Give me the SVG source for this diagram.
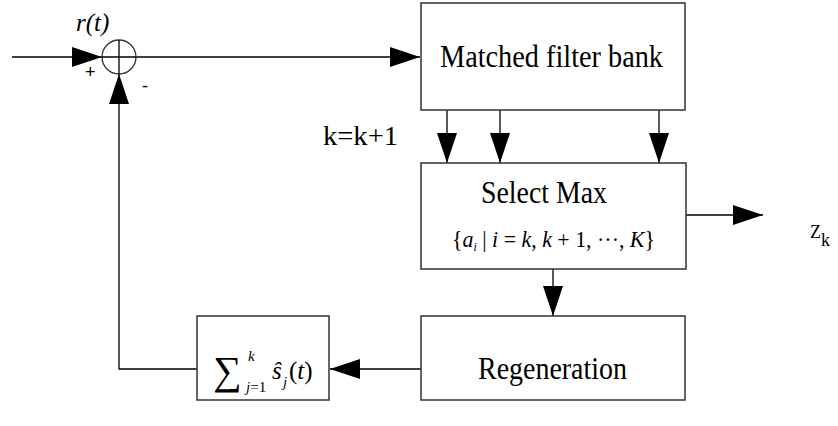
<svg xmlns="http://www.w3.org/2000/svg" width="838" height="426" viewBox="0 0 838 426">
  <style>
    .box { fill: #ffffff; stroke: #333333; stroke-width: 1.5; }
    .wire { fill: none; stroke: #000000; stroke-width: 1.3; }
    .lbl { font-family: 'Liberation Serif', serif; fill: #000000; }
    .sym { font-family: 'Liberation Sans', sans-serif; fill: #000000; }
    .it { font-style: italic; }
  </style>
  <defs>
    <marker id="arrow" markerUnits="userSpaceOnUse" markerWidth="30" markerHeight="20" refX="30" refY="10" orient="auto">
      <path d="M0,0 L30,10 L0,20 Z" fill="#000000"/>
    </marker>
  </defs>

  <rect width="838" height="426" fill="#ffffff"/>

  <!-- connectors -->
  <g id="connectors">
    <path class="wire" d="M12,57 H102" marker-end="url(#arrow)"/>
    <path class="wire" d="M136,57 H420" marker-end="url(#arrow)"/>
    <path class="wire" d="M447,110 V163" marker-end="url(#arrow)"/>
    <path class="wire" d="M500,110 V163" marker-end="url(#arrow)"/>
    <path class="wire" d="M659,110 V163" marker-end="url(#arrow)"/>
    <path class="wire" d="M686,215 H763" marker-end="url(#arrow)"/>
    <path class="wire" d="M553,269 V316" marker-end="url(#arrow)"/>
    <path class="wire" d="M421,369 H330" marker-end="url(#arrow)"/>
    <path class="wire" d="M197,369 H119 V74" marker-end="url(#arrow)"/>
  </g>

  <!-- summing junction -->
  <g id="summer">
    <circle cx="119" cy="57" r="17" fill="none" stroke="#333333" stroke-width="1.3"/>
    <path class="wire" d="M102,57 H136 M119,40 V74"/>
    <text class="lbl it" x="76" y="31" font-size="25">r(t)</text>
    <text class="sym" x="85" y="78" font-size="18">+</text>
    <text class="sym" x="142" y="92" font-size="18">-</text>
  </g>

  <!-- matched filter bank -->
  <g id="matched-filter">
    <rect class="box" x="421" y="3" width="264" height="107"/>
    <text class="lbl" x="440" y="67" font-size="31" textLength="223" lengthAdjust="spacingAndGlyphs">Matched filter bank</text>
  </g>

  <!-- counter label -->
  <g id="counter">
    <text class="lbl" x="323" y="145" font-size="28" textLength="75" lengthAdjust="spacingAndGlyphs">k=k+1</text>
  </g>

  <!-- select max -->
  <g id="select-max">
    <rect class="box" x="421" y="163" width="265" height="106"/>
    <text class="lbl" x="481" y="203" font-size="31" textLength="126" lengthAdjust="spacingAndGlyphs">Select Max</text>
    <text class="lbl" x="452" y="247" font-size="24" textLength="203" lengthAdjust="spacingAndGlyphs">{<tspan class="it">a</tspan><tspan class="it" font-size="13" dy="4">i</tspan><tspan dy="-4"> | </tspan><tspan class="it">i</tspan> = <tspan class="it">k</tspan>, <tspan class="it">k</tspan> + 1, ···, <tspan class="it">K</tspan>}</text>
  </g>

  <!-- output label -->
  <g id="output">
    <text class="lbl" x="810" y="238" font-size="18">Z<tspan font-size="18" dy="8">k</tspan></text>
  </g>

  <!-- regeneration -->
  <g id="regeneration">
    <rect class="box" x="421" y="316" width="264" height="84"/>
    <text class="lbl" x="478" y="379" font-size="32" textLength="149" lengthAdjust="spacingAndGlyphs">Regeneration</text>
  </g>

  <!-- partial sum of regenerated signals -->
  <g id="partial-sum">
    <rect class="box" x="197" y="316" width="132" height="84"/>
    <text class="lbl" x="213" y="384" font-size="40">∑</text>
    <text class="lbl it" x="248" y="361" font-size="15">k</text>
    <text class="lbl" x="246" y="392" font-size="15"><tspan class="it">j</tspan>=1</text>
    <text class="lbl it" x="272" y="379" font-size="25">ŝ</text>
    <text class="lbl it" x="283" y="387" font-size="15">j</text>
    <text class="lbl" x="289" y="379" font-size="25">(<tspan class="it">t</tspan>)</text>
  </g>
</svg>
